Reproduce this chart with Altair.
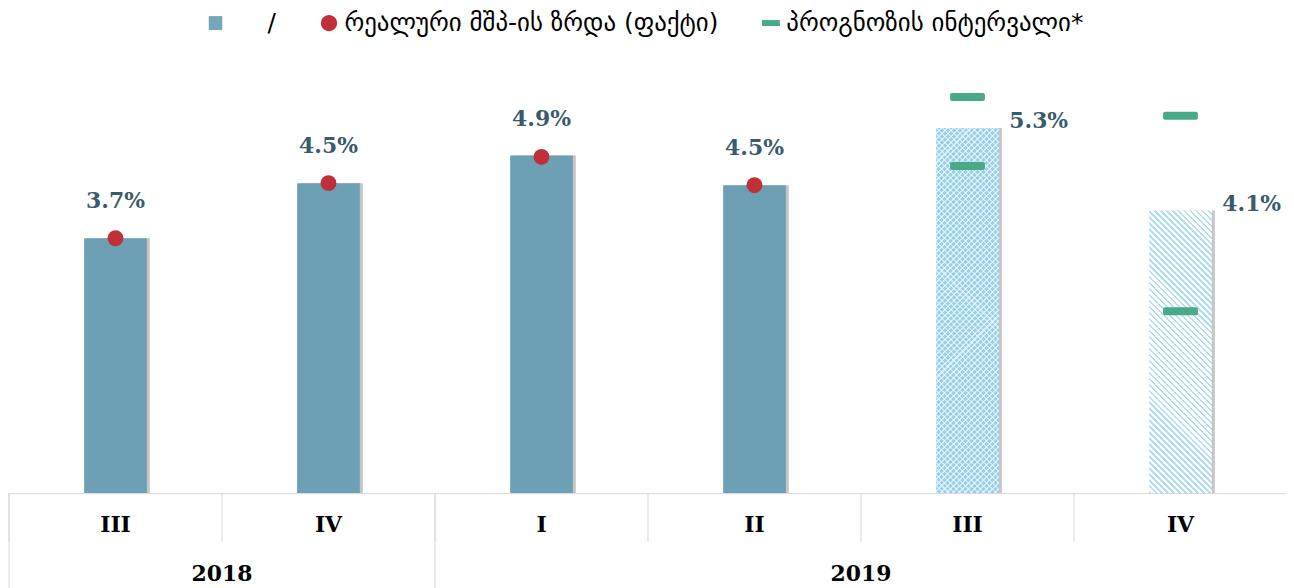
import altair as alt
import pandas as pd

# ---------------- data ----------------
categories = ["III 2018", "IV 2018", "I 2019", "II 2019", "III 2019", "IV 2019"]
bar_values = [3.7, 4.5, 4.9, 4.47, 5.3, 4.1]
bar_kind = ["fact", "fact", "fact", "fact", "forecast", "forecast"]
bar_labels = ["3.7%", "4.5%", "4.9%", "4.5%", "5.3%", "4.1%"]

dot_categories = ["III 2018", "IV 2018", "I 2019", "II 2019"]
dot_values = [3.7, 4.5, 4.88, 4.47]

interval_categories = ["III 2019", "IV 2019"]
interval_low = [4.75, 2.64]
interval_high = [5.75, 5.48]

years = ["2018", "2019"]
year_center_cat = ["IV 2018", "III 2019"]   # year label sits at start of this band
year_start_cat = ["III 2018", "I 2019"]

series_names = [
    "\u2800\u2800/",
    "რეალური მშპ-ის ზრდა (ფაქტი)",
    "პროგნოზის ინტერვალი*",
]
series_colors = ["#73A6BB", "#C0303B", "#48AA86"]
# custom symbol paths live in the [-1, 1] unit square
series_shapes = [
    "M-0.68,-0.7L0.68,-0.7L0.68,0.7L-0.68,0.7Z",
    "M-0.82,0A0.82,0.82,0,1,1,0.82,0A0.82,0.82,0,1,1,-0.82,0Z",
    "M-0.9,-0.3L0.9,-0.3L0.9,0.3L-0.9,0.3Z",
]

# ---------------- geometry / style ----------------
W_PLOT = 1278
H_PLOT = 486
Y_MAX = 7.023
PX_PER_UNIT = H_PLOT / Y_MAX
BAR_W = 63

bars = pd.DataFrame({"cat": categories, "val": bar_values, "kind": bar_kind, "label": bar_labels})
dots = pd.DataFrame({"cat": dot_categories, "val": dot_values})
ints = pd.DataFrame({
    "cat": interval_categories * 2,
    "val": interval_low + interval_high,
})
seps = pd.DataFrame({"cat": categories})
yrs = pd.DataFrame({"cat": year_center_cat, "year": years})
ystarts = pd.DataFrame({"cat": year_start_cat})
# legend-only points: placed below the axis range and clipped away
leg = pd.DataFrame({"cat": [categories[0]] * 3, "val": [-5, -5, -5], "series": series_names})

xscale = alt.Scale(domain=categories, range=[1, 1285], paddingInner=0, paddingOuter=0)
xaxis = alt.Axis(
    title=None, labelExpr="split(datum.label, ' ')[0]", ticks=False, tickSize=0,
    labelFont="DejaVu Serif", labelFontWeight="bold", labelFontSize=22, labelColor="#000000",
    labelBaseline="middle", labelPadding=32, labelAngle=0,
    domainColor="#D9D9D9", domainWidth=1, grid=False,
)
yscale = alt.Scale(domain=[0, Y_MAX], nice=False, zero=True)


def X(**kw):
    return alt.X("cat:N", sort=categories, scale=xscale, axis=xaxis, **kw)


def Y():
    return alt.Y("val:Q", scale=yscale, axis=None)


def stripes(value, direction, color_a, color_b, step, frac):
    """Diagonal stripe fill; step = pixel step in (x+y) between stripes."""
    H = value * PX_PER_UNIT
    Wd = BAR_W
    k = (Wd + H) * Wd / (Wd * Wd + H * H)
    span = Wd + H
    stops = []
    pos = 0.0
    while pos < span:
        a = pos / span
        b = min((pos + frac * step) / span, 1.0)
        c = min((pos + step) / span, 1.0)
        stops += [
            alt.GradientStop(offset=a, color=color_a),
            alt.GradientStop(offset=b, color=color_a),
            alt.GradientStop(offset=b, color=color_b),
            alt.GradientStop(offset=c, color=color_b),
        ]
        pos += step
    if direction == "/":
        return alt.LinearGradient(gradient="linear", stops=stops, x1=0, y1=0, x2=k, y2=k * H / Wd)
    return alt.LinearGradient(gradient="linear", stops=stops, x1=0, y1=1, x2=k, y2=1 - k * H / Wd)


base = alt.Chart(bars)

shadow = base.mark_bar(width=BAR_W, xOffset=3, color="#A0A0A0", opacity=0.6).encode(x=X(), y=Y())
fact_bars = base.transform_filter("datum.kind == 'fact'").mark_bar(
    width=BAR_W, color="#6DA0B5").encode(x=X(), y=Y())

v3 = bar_values[4]
v4 = bar_values[5]
fc3_a = base.transform_filter("datum.cat == 'III 2019'").mark_bar(
    width=BAR_W, color=stripes(v3, "/", "#98D0EA", "#D4EDF8", 6, 0.66)).encode(x=X(), y=Y())
fc3_b = base.transform_filter("datum.cat == 'III 2019'").mark_bar(
    width=BAR_W, color=stripes(v3, "\\", "rgba(255,255,255,0.5)", "rgba(255,255,255,0)", 6, 0.34)).encode(x=X(), y=Y())
fc4 = base.transform_filter("datum.cat == 'IV 2019'").mark_bar(
    width=BAR_W, color=stripes(v4, "\\", "#B3DDF1", "#FFFFFF", 6, 0.4)).encode(x=X(), y=Y())

sep_rules = alt.Chart(seps).mark_rule(color="#D9D9D9", strokeWidth=1).encode(
    x=X(bandPosition=0), y=alt.value(H_PLOT), y2=alt.value(H_PLOT + 49))
year_rules = alt.Chart(ystarts).mark_rule(color="#D9D9D9", strokeWidth=1).encode(
    x=X(bandPosition=0), y=alt.value(H_PLOT), y2=alt.value(H_PLOT + 100))

dot_layer = alt.Chart(dots).mark_circle(size=256, color="#C0303B", opacity=1).encode(x=X(), y=Y())
tick_layer = alt.Chart(ints).mark_tick(
    orient="horizontal", size=35, thickness=8, cornerRadius=2, color="#48AA86", opacity=1
).encode(x=X(), y=Y())

label_style = dict(font="DejaVu Serif", fontWeight="bold", fontSize=22, color="#3A5B6C")
fact_labels = base.transform_filter("datum.kind == 'fact'").mark_text(
    dy=-37, baseline="middle", align="center", **label_style).encode(x=X(), y=Y(), text="label:N")
fc_labels = base.transform_filter("datum.kind == 'forecast'").mark_text(
    dx=42, dy=-7, baseline="middle", align="left", **label_style).encode(x=X(), y=Y(), text="label:N")

year_text = alt.Chart(yrs).mark_text(
    font="DejaVu Serif", fontWeight="bold", fontSize=22, color="#000000", baseline="middle"
).encode(x=X(bandPosition=0), y=alt.value(H_PLOT + 81), text="year:N")

legend_layer = alt.Chart(leg).mark_point(filled=True, opacity=1, clip=True, size=400).encode(
    x=X(), y=Y(),
    color=alt.Color("series:N", sort=series_names,
                    scale=alt.Scale(domain=series_names, range=series_colors),
                    legend=alt.Legend(
                        title=None, orient="none", legendX=196, legendY=1, direction="horizontal",
                        labelFont="DejaVu Sans", labelFontSize=25, labelColor="#000000",
                        labelLimit=1000, symbolSize=400, symbolOpacity=1, symbolStrokeWidth=0,
                        columnPadding=40, labelOffset=3)),
    shape=alt.Shape("series:N", sort=series_names,
                    scale=alt.Scale(domain=series_names, range=series_shapes)),
)

chart = alt.layer(
    shadow, fact_bars, fc3_a, fc3_b, fc4, sep_rules, year_rules,
    dot_layer, tick_layer, fact_labels, fc_labels, year_text, legend_layer,
).properties(
    width=W_PLOT, height=H_PLOT, padding=0, background="#FFFFFF"
).configure_view(stroke=None)

chart.save("out.html", embed_options={"renderer": "svg", "actions": False})
